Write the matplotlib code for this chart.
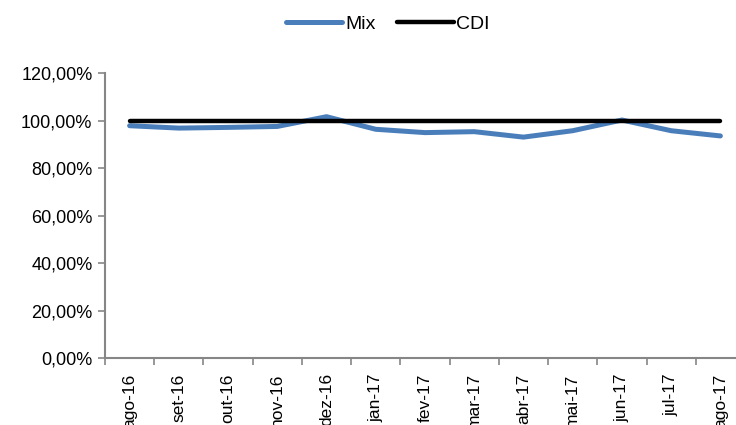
import matplotlib.pyplot as plt
from matplotlib.ticker import FuncFormatter, FixedLocator
import numpy as np

plt.rcParams['font.family'] = ['Liberation Sans', 'DejaVu Sans']

meses = ['ago-16', 'set-16', 'out-16', 'nov-16', 'dez-16', 'jan-17', 'fev-17',
         'mar-17', 'abr-17', 'mai-17', 'jun-17', 'jul-17', 'ago-17']
mix = [97.8, 96.8, 97.1, 97.5, 101.6, 96.3, 94.9, 95.3, 93.0, 95.7, 100.2, 95.7, 93.5]
cdi = [100.0] * len(meses)

fig = plt.figure(figsize=(7.36, 4.25), dpi=100)
ax = fig.add_axes([105 / 736, 1 - 358 / 425, 640 / 736, 285 / 425])

x = np.arange(len(meses))
ax.plot(x, mix, color='#4A7EBB', lw=3.6, label='Mix', solid_capstyle='round')
ax.plot(x, cdi, color='black', lw=3.2, label='CDI', solid_capstyle='round')

ax.set_xlim(-0.5, len(meses) - 0.5)
ax.set_ylim(0, 120)
ax.set_yticks(np.arange(0, 121, 20))
ax.yaxis.set_major_formatter(FuncFormatter(lambda v, p: f'{v:.2f}%'.replace('.', ',')))

ax.set_xticks(x)
ax.set_xticklabels(meses, rotation=90, va='top', ha='center')
ax.xaxis.set_minor_locator(FixedLocator(np.arange(-0.5, len(meses), 1)))
ax.tick_params(axis='x', which='major', length=0, pad=11, labelsize=12.5)
ax.tick_params(axis='x', which='minor', length=5, color='#868686', width=1.2)
ax.tick_params(axis='y', length=5, color='#868686', width=1.2, labelsize=13, pad=4)

for s in ['top', 'right']:
    ax.spines[s].set_visible(False)
for s in ['left', 'bottom']:
    ax.spines[s].set_color('#868686')
    ax.spines[s].set_linewidth(1.5)

fig.legend(loc='center', bbox_to_anchor=(388 / 736, 1 - 24 / 425), ncol=2, frameon=False,
           fontsize=14, handlelength=2.9, handletextpad=0.15, columnspacing=1.1)

fig.savefig('out.png', dpi=100)
